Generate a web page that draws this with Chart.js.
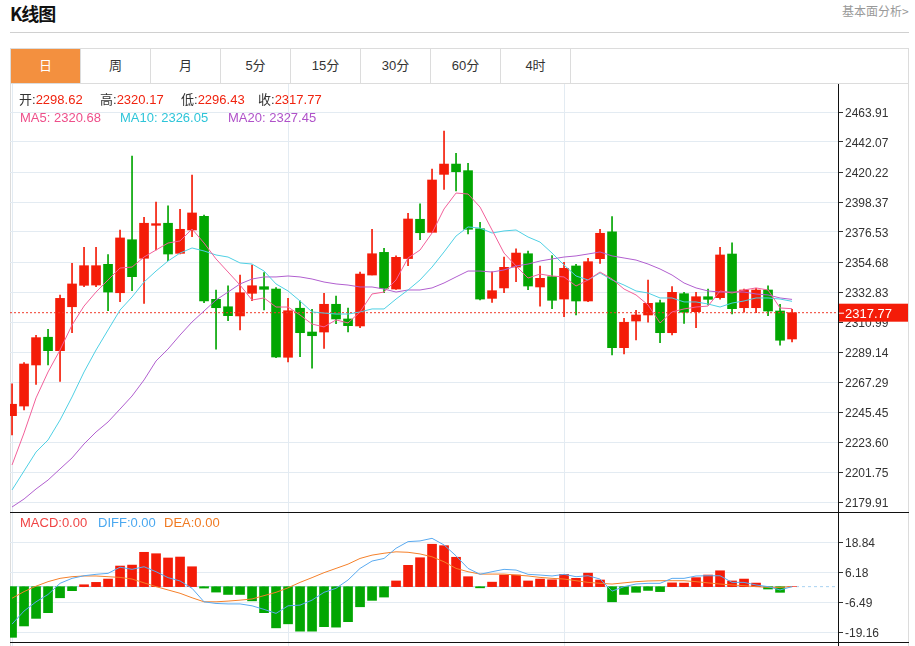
<!DOCTYPE html>
<html>
<head>
<meta charset="utf-8">
<title>K线图</title>
<script src="https://cdn.jsdelivr.net/npm/chart.js@4.4.1/dist/chart.umd.min.js"></script>
<style>
  body { margin: 0; background: #fff; font-family: Arial, "Liberation Sans", "Noto Sans CJK SC", sans-serif; }
  #wrap { position: relative; width: 915px; height: 646px; overflow: hidden; }
  .abs { position: absolute; }
  #title { left: 10px; top: 0px; font: bold 18px "Noto Sans CJK SC", sans-serif; color: #111; letter-spacing: -1px; }
  #more { left: 842px; top: 2px; font: 12px "Noto Sans CJK SC", sans-serif; color: #999; }
  #sep { left: 10px; top: 32px; width: 899px; height: 1px; background: #d0d0d0; }
  #tabs { left: 10px; top: 48px; width: 897px; height: 34px; border: 1px solid #dcdcdc; }
  .tab { position: absolute; top: 0; width: 69px; height: 28px; padding-top: 6px; line-height: 24px; text-align: center;
         font: 13px Arial, "Noto Sans CJK SC", sans-serif; color: #333; border-right: 1px solid #dcdcdc; }
  .tab.on { background: #f3903f; color: #fff; }
  .info { font-size: 13px; line-height: 16px; white-space: nowrap; }
  .lbl { color: #333; }
  .red { color: #f0230f; }
  canvas { position: absolute; }
</style>
</head>
<body>
<div id="wrap">
  <div id="title" class="abs">K线图</div>
  <div id="more" class="abs">基本面分析&gt;</div>
  <div id="sep" class="abs"></div>
  <div id="tabs" class="abs"></div>

  <div class="abs" style="left:10px;top:83px;width:1px;height:563px;background:#dcdcdc"></div>
  <div class="abs" style="left:908px;top:83px;width:1px;height:563px;background:#dcdcdc"></div>

  <canvas id="kline" width="898" height="428" style="left:10px;top:84px"></canvas>
  <canvas id="macd" width="898" height="134" style="left:10px;top:512px"></canvas>

  <div class="abs" style="left:10px;top:512px;width:899px;height:1px;background:#111"></div>
  <div class="abs" style="left:10px;top:642px;width:899px;height:1px;background:#111"></div>

  <div class="abs info" style="left:19px;top:92px"><span class="lbl">开:</span><span class="red" id="vOpen"></span></div>
  <div class="abs info" style="left:100px;top:92px"><span class="lbl">高:</span><span class="red" id="vHigh"></span></div>
  <div class="abs info" style="left:181px;top:92px"><span class="lbl">低:</span><span class="red" id="vLow"></span></div>
  <div class="abs info" style="left:258px;top:92px"><span class="lbl">收:</span><span class="red" id="vClose"></span></div>

  <div class="abs info" style="left:20px;top:110px;color:#ee4f8a">MA5: 2320.68</div>
  <div class="abs info" style="left:120px;top:110px;color:#2ec5d9">MA10: 2326.05</div>
  <div class="abs info" style="left:228px;top:110px;color:#b052c9">MA20: 2327.45</div>

  <div class="abs info" style="left:20px;top:515px;color:#f04444">MACD:0.00</div>
  <div class="abs info" style="left:98px;top:515px;color:#4aa8f0">DIFF:0.00</div>
  <div class="abs info" style="left:164px;top:515px;color:#f07a22">DEA:0.00</div>
</div>

<script>
const tabNames = ['日', '周', '月', '5分', '15分', '30分', '60分', '4时'];

// daily candles, oldest first
const opens = [2242.8, 2249.8, 2279.7, 2299.9, 2290.1, 2322.1, 2337.7, 2337.9, 2353.0, 2332.3,
  2370.9, 2357.4, 2381.4, 2382.9, 2361.0, 2378.0, 2388.0, 2327.5, 2322.1, 2315.4,
  2331.9, 2336.7, 2335.0, 2285.3, 2321.0, 2303.7, 2303.7, 2323.9, 2313.2, 2308.1,
  2345.2, 2361.7, 2335.0, 2357.2, 2385.8, 2376.3, 2418.5, 2426.0, 2421.2, 2378.9,
  2328.2, 2335.8, 2351.0, 2360.7, 2336.5, 2344.0, 2327.7, 2351.8, 2326.3, 2357.1,
  2376.7, 2292.3, 2311.7, 2316.1, 2325.0, 2303.2, 2331.6, 2318.5, 2329.4, 2328.7,
  2360.5, 2321.4, 2321.4, 2334.3, 2319.0, 2298.62];
const highs = [2265.9, 2281.4, 2301.3, 2305.7, 2330.6, 2353.7, 2365.4, 2365.4, 2360.0, 2378.0,
  2431.9, 2387.2, 2398.4, 2395.5, 2393.0, 2418.0, 2388.9, 2334.3, 2337.4, 2345.2,
  2352.5, 2346.9, 2336.0, 2328.2, 2326.5, 2320.2, 2331.9, 2329.9, 2321.2, 2347.4,
  2378.5, 2364.7, 2359.2, 2390.2, 2397.1, 2422.4, 2450.1, 2433.8, 2426.6, 2383.6,
  2347.6, 2358.3, 2364.2, 2362.7, 2351.8, 2359.3, 2354.5, 2353.0, 2357.4, 2378.5,
  2387.7, 2313.7, 2319.5, 2341.6, 2327.0, 2336.7, 2332.6, 2332.6, 2335.0, 2365.4,
  2368.7, 2335.0, 2335.5, 2337.4, 2323.9, 2320.17];
const lows = [2228.7, 2246.9, 2265.6, 2279.7, 2267.8, 2303.2, 2336.7, 2336.7, 2319.2, 2325.8,
  2333.8, 2324.6, 2363.4, 2355.6, 2360.5, 2373.1, 2325.0, 2291.3, 2311.9, 2305.2,
  2326.5, 2319.7, 2285.0, 2281.9, 2285.7, 2277.3, 2291.8, 2309.7, 2303.7, 2306.9,
  2345.2, 2332.3, 2334.7, 2352.0, 2370.9, 2376.3, 2407.6, 2406.4, 2375.1, 2327.0,
  2325.3, 2332.3, 2340.3, 2334.5, 2322.6, 2320.7, 2314.9, 2316.1, 2325.8, 2353.7,
  2287.0, 2287.7, 2297.9, 2310.8, 2295.9, 2301.5, 2310.0, 2306.9, 2323.4, 2327.7,
  2316.8, 2318.1, 2317.8, 2315.6, 2294.2, 2296.43];
const closes = [2251.1, 2280.4, 2299.6, 2290.1, 2328.2, 2338.7, 2352.0, 2352.0, 2332.8, 2372.2,
  2344.0, 2382.9, 2382.6, 2360.5, 2378.5, 2390.4, 2326.3, 2321.4, 2315.6, 2332.3,
  2337.4, 2334.8, 2285.5, 2319.2, 2303.2, 2301.0, 2323.9, 2313.2, 2308.3, 2345.9,
  2360.7, 2335.5, 2358.1, 2386.0, 2376.0, 2414.4, 2426.0, 2420.4, 2378.5, 2327.7,
  2333.8, 2350.8, 2361.2, 2337.2, 2342.8, 2326.8, 2350.1, 2326.3, 2354.9, 2375.6,
  2292.3, 2310.8, 2316.1, 2324.6, 2303.2, 2332.6, 2318.1, 2329.4, 2327.5, 2359.8,
  2320.7, 2334.3, 2334.3, 2319.0, 2297.7, 2317.77];

const ma5 = [2206.9, 2230.2, 2255.7, 2274.6, 2290.6, 2308.8, 2322.6, 2332.8, 2341.6, 2350.3,
  2351.0, 2358.3, 2363.4, 2368.5, 2370.0, 2378.7, 2368.5, 2356.9, 2347.4, 2337.9,
  2327.0, 2328.5, 2321.9, 2321.9, 2316.1, 2309.5, 2307.4, 2312.5, 2310.3, 2318.3,
  2331.4, 2332.8, 2341.6, 2357.6, 2363.4, 2375.8, 2393.3, 2404.9, 2404.2, 2394.7,
  2378.0, 2361.2, 2351.8, 2343.0, 2345.9, 2344.5, 2343.8, 2337.2, 2341.6, 2347.4,
  2342.3, 2335.0, 2330.7, 2323.4, 2310.3, 2318.3, 2320.5, 2321.9, 2322.6, 2333.6,
  2332.1, 2334.3, 2335.8, 2334.3, 2321.2, 2320.68];
const ma10 = [2188.7, 2202.5, 2216.3, 2225.1, 2239.6, 2256.4, 2274.6, 2290.6, 2305.2, 2319.7,
  2329.2, 2340.1, 2348.1, 2355.4, 2361.2, 2364.9, 2362.7, 2359.8, 2358.3, 2354.0,
  2353.2, 2348.1, 2338.7, 2333.6, 2326.3, 2318.3, 2317.5, 2316.8, 2316.8, 2318.3,
  2320.5, 2320.5, 2327.7, 2334.3, 2341.6, 2351.0, 2362.0, 2373.6, 2380.2, 2379.4,
  2375.8, 2377.3, 2378.0, 2372.9, 2369.2, 2361.2, 2352.5, 2344.5, 2341.6, 2346.7,
  2341.6, 2337.9, 2333.6, 2332.1, 2328.5, 2328.5, 2325.6, 2325.6, 2324.1, 2321.9,
  2324.8, 2326.3, 2328.5, 2328.5, 2327.7, 2326.05];
const ma20 = [2176.3, 2182.1, 2189.4, 2195.9, 2204.0, 2212.0, 2222.2, 2230.9, 2238.2, 2247.6,
  2257.1, 2268.8, 2282.6, 2291.3, 2301.5, 2311.0, 2319.0, 2327.0, 2332.8, 2338.7,
  2342.3, 2343.8, 2343.8, 2344.5, 2343.8, 2342.3, 2340.1, 2338.7, 2337.9, 2336.5,
  2336.5, 2335.0, 2332.8, 2334.3, 2334.3, 2335.8, 2339.4, 2343.8, 2348.1, 2348.1,
  2347.4, 2348.9, 2351.8, 2353.2, 2355.4, 2356.9, 2358.3, 2359.1, 2360.5, 2362.0,
  2359.1, 2357.6, 2356.1, 2353.2, 2349.6, 2345.2, 2339.4, 2335.8, 2333.6, 2332.8,
  2332.8, 2332.8, 2331.4, 2330.7, 2328.5, 2327.45];

const macdHist = [-21.4, -16.6, -13.4, -11.0, -4.7, -1.7, 0.8, 1.8, 3.2, 8.7,
  9.1, 14.5, 13.9, 12.1, 12.5, 8.4, -0.6, -2.3, -3.3, -3.3,
  -6.0, -11.0, -17.4, -15.7, -18.8, -18.8, -16.9, -17.1, -14.8, -8.5,
  -5.8, -4.4, 2.4, 9.0, 12.2, 17.9, 17.3, 12.4, 4.2, -0.5,
  1.9, 4.9, 4.9, 2.4, 3.2, 2.9, 5.2, 3.5, 5.7, 2.8,
  -6.4, -3.3, -2.4, -1.6, -2.1, 1.6, 1.5, 3.8, 4.9, 6.7,
  2.4, 3.2, 1.5, -1.0, -2.4, 0];
const diff = [-15.8, -10.3, -6.4, -3.3, 1.4, 3.5, 4.6, 5.2, 5.6, 8.2,
  7.3, 8.4, 6.3, 3.8, 2.4, -0.7, -6.4, -7.1, -7.3, -7.3,
  -8.1, -9.6, -11.3, -8.1, -7.8, -5.7, -2.4, -0.7, 2.8, 7.7,
  10.8, 11.9, 16.2, 19.0, 19.3, 20.4, 17.6, 13.0, 7.7, 5.2,
  6.3, 7.3, 7.0, 5.2, 4.9, 4.5, 5.2, 4.2, 4.6, 3.2,
  -1.9, 0.0, 1.1, 1.4, 1.4, 3.5, 3.5, 4.5, 4.6, 4.6,
  1.8, 1.8, 0.7, 0.0, -1.4, 0];
const dea = [-4.9, -2.1, 0.2, 2.1, 3.5, 4.2, 4.5, 4.5, 4.2, 3.9,
  3.2, 1.6, 0.0, -1.4, -2.8, -4.7, -6.4, -6.4, -6.1, -5.7,
  -5.2, -3.8, -2.4, -0.5, 1.8, 3.8, 5.9, 7.7, 9.5, 11.9,
  13.3, 14.1, 14.7, 14.5, 13.8, 12.6, 10.5, 7.7, 6.3, 5.3,
  5.3, 5.3, 4.9, 4.5, 3.9, 3.5, 3.2, 2.5, 1.8, 1.4,
  1.1, 1.6, 2.1, 2.4, 2.5, 2.5, 2.5, 2.1, 1.6, 1.1,
  0.7, 0.4, 0.0, -0.3, -0.3, 0];

const priceTicks = [2463.91, 2442.07, 2420.22, 2398.37, 2376.53, 2354.68, 2332.83,
  2310.99, 2289.14, 2267.29, 2245.45, 2223.60, 2201.75, 2179.91];
const macdTicks = [18.84, 6.18, -6.49, -19.16];
const gridDays = [0, 23, 46];

const RED = '#f41c08';
const GREEN = '#02a602';
const GRID = '#e3ebf2';
const xMin = -0.17, xMax = 68.83;

// tabs
const tabs = document.getElementById('tabs');
tabNames.forEach((t, i) => {
  const d = document.createElement('div');
  d.className = 'tab' + (i === 0 ? ' on' : '');
  d.style.left = (i * 70) + 'px';
  d.textContent = t;
  tabs.appendChild(d);
});

const last = closes.length - 1;
document.getElementById('vOpen').textContent = opens[last].toFixed(2);
document.getElementById('vHigh').textContent = highs[last].toFixed(2);
document.getElementById('vLow').textContent = lows[last].toFixed(2);
document.getElementById('vClose').textContent = closes[last].toFixed(2);

const up = closes.map((c, i) => c >= opens[i]);
const candleColor = ctx => up[ctx.dataIndex] ? RED : GREEN;
const pts = arr => arr.map((v, i) => ({ x: i, y: v }));

function xAxis() {
  return {
    type: 'linear', min: xMin, max: xMax, offset: false,
    afterBuildTicks: s => { s.ticks = gridDays.map(v => ({ value: v })); },
    afterFit: s => { s.height = 0; s.paddingLeft = 0; s.paddingRight = 0; },
    ticks: { display: false },
    grid: { color: GRID, drawTicks: false, offset: false },
    border: { display: false }
  };
}

function yAxis(min, max, tickList) {
  return {
    position: 'right', min: min, max: max, beginAtZero: false,
    afterBuildTicks: s => { s.ticks = tickList.map(v => ({ value: v })); },
    afterFit: s => { s.width = 70; s.paddingTop = 0; s.paddingBottom = 0; },
    ticks: { color: '#333', font: { size: 12, family: 'Arial, "Liberation Sans"' }, padding: 2,
             labelOffset: 1.5, callback: v => v.toFixed(2) },
    grid: { color: GRID, tickColor: '#333', tickLength: 5 },
    border: { display: true, color: '#111', width: 1 }
  };
}

const priceTag = {
  id: 'priceTag',
  afterDraw(chart) {
    const y = chart.scales.y.getPixelForValue(closes[last]);
    const left = chart.chartArea.right;
    const ctx = chart.ctx;
    ctx.save();
    ctx.fillStyle = RED;
    ctx.fillRect(left + 1, y - 9, 70, 18);
    ctx.strokeStyle = '#fff';
    ctx.lineWidth = 1;
    ctx.beginPath();
    ctx.moveTo(left + 1, y + 0.5);
    ctx.lineTo(left + 6, y + 0.5);
    ctx.stroke();
    ctx.fillStyle = '#fff';
    ctx.font = '13px Arial, "Liberation Sans"';
    ctx.textBaseline = 'middle';
    ctx.fillText(closes[last].toFixed(2), left + 7, y + 1.5);
    ctx.restore();
  }
};

const common = {
  responsive: false,
  animation: false,
  events: [],
  layout: { padding: 0 },
  plugins: { legend: { display: false }, tooltip: { enabled: false } }
};

new Chart(document.getElementById('kline'), {
  type: 'bar',
  data: {
    datasets: [
      { type: 'line', data: pts(ma5), borderColor: '#f2609a', borderWidth: 1, pointRadius: 0, order: 0 },
      { type: 'line', data: pts(ma10), borderColor: '#4fd0e4', borderWidth: 1, pointRadius: 0, order: 0 },
      { type: 'line', data: pts(ma20), borderColor: '#b15fcf', borderWidth: 1, pointRadius: 0, order: 0 },
      { type: 'line', data: [{ x: xMin, y: closes[last] }, { x: xMax, y: closes[last] }],
        borderColor: '#f03a2a', borderWidth: 1, borderDash: [2, 2], pointRadius: 0, order: 1 },
      { type: 'bar', data: opens.map((o, i) => ({ x: i, y: [o, closes[i]] })),
        backgroundColor: candleColor, barThickness: 9, minBarLength: 1, grouped: false, order: 2 },
      { type: 'bar', data: lows.map((l, i) => ({ x: i, y: [l, highs[i]] })),
        backgroundColor: candleColor, barThickness: 1, grouped: false, order: 3 }
    ]
  },
  options: Object.assign({}, common, {
    scales: { x: xAxis(), y: yAxis(2172.64, 2484.30, priceTicks) }
  }),
  plugins: [priceTag]
});

new Chart(document.getElementById('macd'), {
  type: 'bar',
  data: {
    datasets: [
      { type: 'line', data: pts(diff), borderColor: '#5aaaf0', borderWidth: 1, pointRadius: 0, order: 0 },
      { type: 'line', data: pts(dea), borderColor: '#f5802a', borderWidth: 1, pointRadius: 0, order: 0 },
      { type: 'bar', data: pts(macdHist),
        backgroundColor: ctx => macdHist[ctx.dataIndex] >= 0 ? RED : GREEN,
        barThickness: 9, grouped: false, order: 1 },
      { type: 'line', data: [{ x: xMin, y: 0 }, { x: xMax, y: 0 }],
        borderColor: '#a9d2f2', borderWidth: 1, borderDash: [3, 3], pointRadius: 0, order: 2 }
    ]
  },
  options: Object.assign({}, common, {
    scales: { x: xAxis(), y: yAxis(-25.06, 31.51, macdTicks) }
  })
});
</script>
</body>
</html>
